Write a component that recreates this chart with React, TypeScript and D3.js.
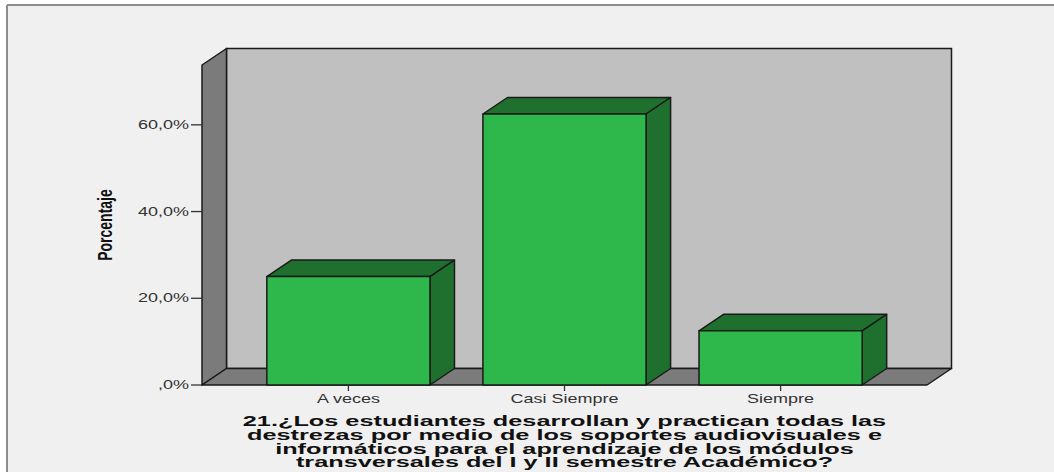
import React from "react";
import * as d3 from "d3";

const categories = ["A veces", "Casi Siempre", "Siempre"];
const percentages = [25.0, 62.5, 12.5];
const yTicks = [0, 20, 40, 60];
const yAxisTitle = "Porcentaje";
const titleLines = [
  "21.¿Los estudiantes desarrollan y practican todas las",
  "destrezas por medio de los soportes audiovisuales e",
  "informáticos para el aprendizaje de los módulos",
  "transversales del I y II semestre Académico?",
];

const W = 1054;
const H = 472;
const left = 202;
const right = 927;
const bottom = 385;
const top = 65;
const DX = 24.5;
const DY = -16.5;

const FONT = "'Liberation Sans', Arial, Helvetica, sans-serif";

export default function App() {
  const x = d3
    .scaleBand<string>()
    .domain(categories)
    .range([left, right])
    .paddingInner(0.245)
    .paddingOuter(0.3);
  const y = d3.scaleLinear().domain([0, 73.8]).range([bottom, top]);

  const fmt = (v: number) =>
    v === 0 ? ",0%" : v.toFixed(1).replace(".", ",") + "%";

  const pts = (arr: [number, number][]) => arr.map((p) => p.join(",")).join(" ");

  const stroke = "#1a1a1a";
  const sw = 1.5;

  return (
    <svg
      width={W}
      height={H}
      style={{ position: "absolute", left: 0, top: 0, background: "#ffffff" }}
    >
      <rect x={7} y={5} width={W} height={H} fill="#f0f0f0" />
      <line x1={7} y1={5} x2={W} y2={5} stroke="#8c8c8c" strokeWidth={2} />
      <line x1={7} y1={5} x2={7} y2={H} stroke="#8c8c8c" strokeWidth={2} />

      {/* back wall */}
      <rect
        x={left + DX}
        y={top + DY}
        width={right - left}
        height={bottom - top}
        fill="#c0c0c0"
        stroke={stroke}
        strokeWidth={sw}
      />
      {/* side wall */}
      <polygon
        points={pts([
          [left, bottom],
          [left, top],
          [left + DX, top + DY],
          [left + DX, bottom + DY],
        ])}
        fill="#7b7b7b"
        stroke={stroke}
        strokeWidth={sw}
        strokeLinejoin="round"
      />
      {/* floor */}
      <polygon
        points={pts([
          [left, bottom],
          [right, bottom],
          [right + DX, bottom + DY],
          [left + DX, bottom + DY],
        ])}
        fill="#7b7b7b"
        stroke={stroke}
        strokeWidth={sw}
        strokeLinejoin="round"
      />

      {/* bars */}
      {categories.map((c, i) => {
        const x0 = x(c)!;
        const x1 = x0 + x.bandwidth();
        const yv = y(percentages[i]);
        return (
          <g key={c} stroke={stroke} strokeWidth={sw} strokeLinejoin="round">
            <polygon
              points={pts([
                [x0, yv],
                [x0 + DX, yv + DY],
                [x1 + DX, yv + DY],
                [x1, yv],
              ])}
              fill="#1f702f"
            />
            <polygon
              points={pts([
                [x1, yv],
                [x1 + DX, yv + DY],
                [x1 + DX, bottom + DY],
                [x1, bottom],
              ])}
              fill="#1f702f"
            />
            <rect x={x0} y={yv} width={x1 - x0} height={bottom - yv} fill="#2eb74a" />
          </g>
        );
      })}

      {/* y axis ticks */}
      {yTicks.map((t) => (
        <g key={t}>
          <line x1={left - 11} x2={left} y1={y(t)} y2={y(t)} stroke="#333" strokeWidth={1.3} />
          <text
            transform={`translate(${left - 13},${y(t) + 4}) scale(1.5,1)`}
            textAnchor="end"
            fontFamily={FONT}
            fontSize={12}
            fill="#333"
          >
            {fmt(t)}
          </text>
        </g>
      ))}

      {/* x axis ticks + labels */}
      {categories.map((c) => {
        const cx = x(c)! + x.bandwidth() / 2;
        return (
          <g key={c}>
            <line x1={cx} x2={cx} y1={bottom} y2={bottom + 6} stroke="#333" strokeWidth={1.3} />
            <text
              transform={`translate(${cx},${bottom + 17.5}) scale(1.5,1)`}
              textAnchor="middle"
              fontFamily={FONT}
              fontSize={12}
              fill="#333"
            >
              {c}
            </text>
          </g>
        );
      })}

      {/* y axis title */}
      <text
        transform={`translate(112,${(top + bottom) / 2}) scale(1.5,1) rotate(-90)`}
        textAnchor="middle"
        fontFamily={FONT}
        fontSize={14}
        fontWeight="bold"
        fill="#111"
      >
        {yAxisTitle}
      </text>

      {/* x axis title */}
      {titleLines.map((line, i) => (
        <text
          key={i}
          transform={`translate(${(left + right) / 2},${426 + i * 13.8}) scale(1.78,1)`}
          textAnchor="middle"
          fontFamily={FONT}
          fontSize={14.2}
          fontWeight="bold"
          fill="#111"
        >
          {line}
        </text>
      ))}
    </svg>
  );
}
